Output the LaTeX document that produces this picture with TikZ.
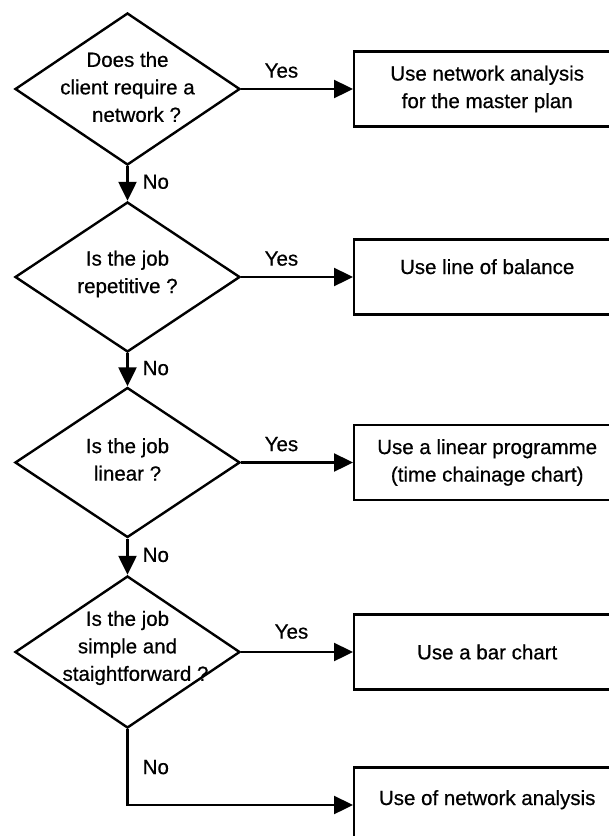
\documentclass[tikz,border=0pt]{standalone}
\usepackage{fontspec}
\setmainfont{Liberation Sans}
\newfontfamily\chartface{Liberation Sans}[FakeBold=0.6]
\usetikzlibrary{shapes.geometric,arrows.meta}
\newcommand{\chartfont}{\chartface\fontsize{20.5pt}{27.5pt}\selectfont}
\begin{document}
\begin{tikzpicture}[x=1pt,y=-1pt,
  font=\chartfont,
  line width=2.4pt,
  decision/.style={draw, diamond, minimum width=225pt, minimum height=152pt,
    inner sep=0pt, line join=miter},
  outcome/.style={draw, rectangle, anchor=west, minimum width=266pt,
    minimum height=75pt, align=center, inner sep=0pt},
  flow/.style={-{Triangle[length=19pt,width=18pt]}},
  yeslabel/.style={above, inner sep=0pt, yshift=10pt, pos=0.36},
  nolabel/.style={right, inner sep=0pt, xshift=14pt, pos=0.45},
]
\path[use as bounding box] (0,0) rectangle (609,836);
\clip (0,0) rectangle (609,836);

% decisions
\node[decision, label={[align=center, yshift=2pt]center:Does the\\client require a\\\hspace*{18pt}network ?}] (d1) at (127.5,89) {};
\node[decision, minimum height=150pt, label={[align=center, yshift=3pt]center:Is the job\\repetitive ?}] (d2) at (127.5,277) {};
\node[decision, minimum height=150pt, label={[align=center, yshift=3pt]center:Is the job\\linear ?}] (d3) at (127.5,462.5) {};
\node[decision, label={[align=center, yshift=4pt]center:Is the job\\simple and\\\hspace*{16pt}staightforward ?}] (d4) at (127.5,652) {};

% outcomes
\node[outcome] (b1) at (353,89) {Use network analysis\\for the master plan};
\node[outcome, text height=15pt, text depth=21pt] (b2) at (353,277) {Use line of balance};
\node[outcome] (b3) at (353,462.5) {Use a linear programme\\(time chainage chart)};
\node[outcome] (b4) at (353,652) {Use a bar chart};
\node[outcome, text height=15pt, text depth=15pt] (b5) at (353,805) {Use of network analysis};

% yes branches
\draw[flow] (d1.east) -- node[yeslabel]{Yes} (b1.west);
\draw[flow] (d2.east) -- node[yeslabel]{Yes} (b2.west);
\draw[flow] (d3.east) -- node[yeslabel]{Yes} (b3.west);
\draw[flow] (d4.east) -- node[yeslabel, pos=0.45, yshift=2pt]{Yes} (b4.west);

% no branches
\draw[flow] (d1.south) -- node[nolabel]{No} (d2.north);
\draw[flow] (d2.south) -- node[nolabel]{No} (d3.north);
\draw[flow] (d3.south) -- node[nolabel]{No} (d4.north);
\draw[flow] (d4.south) -- node[nolabel, pos=0.5]{No} (d4.south |- b5.west) -- (b5.west);
\end{tikzpicture}
\end{document}
